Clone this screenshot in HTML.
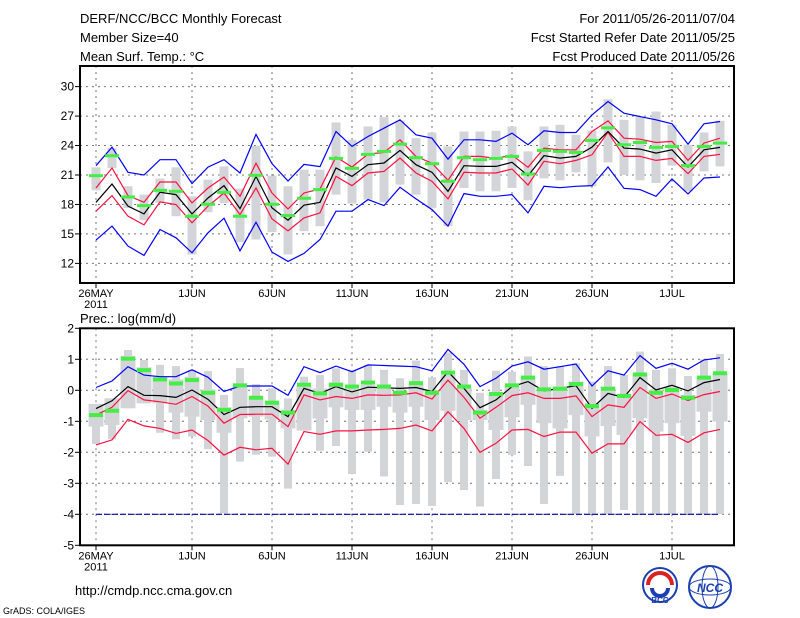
<!DOCTYPE html>
<html><head><meta charset="utf-8"><style>
body{margin:0;background:#fff;}
svg{display:block;font-family:"Liberation Sans",sans-serif;}
</style></head><body>
<svg id="c" width="800" height="618" viewBox="0 0 800 618">
<text x="80" y="23" font-size="13">DERF/NCC/BCC Monthly Forecast</text>
<text x="80" y="42" font-size="13">Member Size=40</text>
<text x="80" y="61" font-size="13">Mean Surf. Temp.: °C</text>
<text x="735" y="23" font-size="13" text-anchor="end">For 2011/05/26-2011/07/04</text>
<text x="735" y="42" font-size="13" text-anchor="end">Fcst Started Refer Date 2011/05/25</text>
<text x="735" y="61" font-size="13" text-anchor="end">Fcst Produced Date 2011/05/26</text>
<text x="80" y="323" font-size="13">Prec.: log(mm/d)</text>
<text x="75" y="595" font-size="13">http://cmdp.ncc.cma.gov.cn</text>
<text x="3" y="614" font-size="9">GrADS: COLA/IGES</text>
<g>
<circle cx="660" cy="585" r="17" fill="#fff" stroke="#1a3fb0" stroke-width="2"/>
<path d="M648 585 a12 12 0 0 1 24 0" fill="none" stroke="#d22" stroke-width="4"/>
<path d="M652 588 a8 8 0 0 0 16 0" fill="none" stroke="#1a3fb0" stroke-width="4"/>
<text x="660" y="603" font-size="8" text-anchor="middle" font-weight="bold" fill="#1a3fb0">BCC</text>
</g>
<g>
<circle cx="710" cy="587" r="21" fill="#fff" stroke="#1a3fb0" stroke-width="2"/>
<ellipse cx="710" cy="587" rx="21" ry="8" fill="none" stroke="#1a3fb0"/>
<ellipse cx="710" cy="587" rx="8" ry="21" fill="none" stroke="#1a3fb0"/>
<text x="710" y="592" font-size="12" text-anchor="middle" font-style="italic" font-weight="bold" fill="#1a3fb0">NCC</text>
</g>
</svg>
<script>
// ---- Temperature panel data ----
const tBlueHi=[21.95,23.84,21.27,21.0,22.56,22.56,20.12,21.8,22.56,21.2,25.13,22.15,20.39,22.08,21.85,25.43,23.91,24.92,25.77,26.62,25.09,24.75,22.62,24.58,24.58,24.42,25.26,24.08,25.5,25.33,25.33,27.12,28.48,27.29,26.95,26.62,26.21,24.15,26.21,26.45];
const tBlueLo=[14.37,15.79,13.76,12.81,15.45,14.6,13.08,15.11,16.6,13.28,16.19,13.15,12.2,13.01,14.43,17.31,17.31,18.49,17.88,19.75,18.56,17.48,15.79,19.1,18.83,18.83,19.0,17.14,19.85,19.71,19.85,19.92,21.81,19.64,19.51,18.83,20.59,19.07,20.69,20.8];
const tRedHi=[19.68,21.71,18.9,18.22,20.29,20.29,18.16,19.68,20.8,18.83,22.2,19.17,17.55,19.17,19.58,22.83,21.81,23.13,23.3,24.58,22.89,22.2,20.46,22.89,22.89,22.69,23.03,21.78,23.74,23.57,23.57,25.43,26.51,24.75,24.65,24.31,24.42,22.49,24.25,24.75];
const tRedLo=[17.31,18.9,16.8,15.92,18.26,17.99,16.13,17.82,19.17,16.97,19.68,16.53,15.31,16.63,17.14,20.86,19.92,21.2,21.37,22.72,21.2,20.36,18.56,21.27,21.2,21.2,21.61,19.98,22.39,22.15,22.49,23.06,25.36,22.89,22.89,22.49,22.69,21.13,22.89,23.1];
const tMean=[18.22,20.08,17.82,17.04,19.24,19.0,17.04,18.66,19.92,17.58,20.86,17.65,16.4,17.92,18.22,21.71,20.86,22.05,22.22,23.5,22.05,21.27,19.34,21.95,21.88,21.88,22.29,20.93,22.96,22.72,22.89,23.84,25.43,23.74,23.64,23.23,23.57,21.81,23.57,23.81];
const tObs=[20.93,22.96,18.76,17.88,19.44,19.34,16.8,18.02,19.24,16.8,20.96,18.02,16.87,18.63,19.51,22.69,21.68,23.1,23.4,24.15,22.76,22.15,20.36,22.76,22.56,22.69,22.89,21.1,23.5,23.4,23.3,24.52,25.8,24.08,24.31,23.81,23.91,21.95,23.91,24.25];
const tBarHi=[21.78,23.74,19.85,19.0,20.63,21.78,18.83,20.52,21.88,19.61,23.98,20.93,19.85,21.54,21.54,26.35,24.58,25.94,26.89,26.55,24.75,25.33,23.91,25.43,25.43,25.5,25.94,23.4,25.94,26.11,25.09,25.53,28.71,26.62,26.95,27.46,26.11,24.08,25.33,26.52];
const tBarLo=[19.44,21.71,17.65,16.4,18.16,16.8,12.91,17.21,18.16,14.16,14.43,15.18,12.91,15.28,15.79,19.0,18.09,18.49,18.22,20.02,19.0,17.65,15.79,19.68,19.34,19.34,19.68,18.43,20.66,20.46,21.27,19.85,22.28,21.0,20.46,20.19,21.95,19.34,21.37,21.88];
const tTicks=[12,15,18,21,24,27,30];
// ---- Precipitation panel data ----
const pBlueHi=[0.09,0.3,0.76,0.49,0.44,0.44,0.66,0.42,-0.04,0.14,0.14,0.14,-0.16,0.76,0.57,0.78,0.6,0.82,0.8,0.78,0.76,0.63,1.32,0.84,0.12,0.39,0.78,0.92,0.68,0.76,0.85,0.14,0.63,0.49,1.12,0.71,0.87,0.68,0.98,1.05];
const pBlueLo=[-4,-4,-4,-4,-4,-4,-4,-4,-4,-4,-4,-4,-4,-4,-4,-4,-4,-4,-4,-4,-4,-4,-4,-4,-4,-4,-4,-4,-4,-4,-4,-4,-4,-4,-4,-4,-4,-4,-4,-4];
const pMean=[-0.59,-0.34,0.12,-0.16,-0.17,-0.23,0.01,-0.29,-0.78,-0.55,-0.53,-0.53,-0.85,0.06,-0.1,0.12,-0.05,0.1,0.08,0.06,0.09,-0.04,0.6,0.06,-0.56,-0.31,0.12,0.28,-0.02,0.06,0.15,-0.58,-0.1,-0.23,0.41,0.01,0.16,-0.02,0.25,0.35];
const pRedHi=[-0.8,-0.55,-0.01,-0.31,-0.37,-0.45,-0.2,-0.51,-1.06,-0.78,-0.77,-0.77,-1.17,-0.15,-0.31,-0.2,-0.26,-0.15,-0.16,-0.15,-0.08,-0.28,0.33,-0.23,-0.9,-0.55,-0.17,-0.08,-0.26,-0.26,-0.18,-0.85,-0.47,-0.55,0.09,-0.26,-0.12,-0.33,-0.14,-0.04];
const pRedLo=[-1.76,-1.6,-0.94,-1.15,-1.23,-1.39,-1.28,-1.62,-2.09,-1.84,-1.92,-1.87,-2.38,-1.33,-1.42,-1.31,-1.31,-1.28,-1.26,-1.23,-1.12,-1.31,-0.69,-1.23,-2.0,-1.71,-1.28,-1.26,-1.49,-1.35,-1.35,-2.03,-1.73,-1.73,-1.01,-1.45,-1.42,-1.68,-1.37,-1.26];
const pObs=[-0.8,-0.66,1.02,0.65,0.35,0.22,0.33,-0.08,-0.63,0.16,-0.24,-0.4,-0.72,0.18,-0.1,0.18,0.12,0.25,0.12,-0.08,0.23,-0.08,0.57,0.12,-0.72,-0.12,0.16,0.41,0.03,0.05,0.2,-0.51,0.05,-0.18,0.51,-0.08,0.01,-0.24,0.41,0.55];
const pBarHi=[-0.44,-0.26,1.3,0.98,0.82,0.78,0.66,0.62,-0.15,0.72,0.2,0.06,-0.26,0.44,0.49,0.71,0.66,0.82,0.66,0.39,0.96,0.42,1.22,0.66,-0.08,0.63,0.6,1.09,0.78,0.78,0.87,0.28,0.78,0.49,1.25,0.66,0.71,0.46,1.0,1.17];
const pBarLo=[-1.73,-1.58,-0.58,-0.42,-1.37,-1.58,-1.49,-1.9,-3.97,-2.3,-2.08,-2.14,-3.17,-1.3,-1.95,-1.8,-2.7,-1.98,-2.78,-3.7,-3.67,-3.73,-2.96,-3.22,-3.75,-2.86,-2.09,-2.44,-3.67,-2.76,-3.99,-3.99,-3.99,-3.86,-3.99,-3.99,-3.99,-3.99,-3.99,-3.99];
const pBoxHi=[-0.44,-0.26,1.11,0.74,0.44,0.35,0.44,0.03,-0.55,0.17,-0.2,-0.37,-0.63,0.17,0.06,0.25,0.01,0.17,0.12,-0.04,0.2,0.01,0.49,0.12,-0.63,-0.15,0.17,0.44,0.06,0.12,0.28,-0.4,0.12,-0.12,0.55,0.01,0.12,-0.15,0.44,0.55];
const pBoxLo=[-1.17,-1.12,-0.58,-0.42,-0.42,-0.72,-0.85,-0.96,-1.37,-0.9,-0.85,-0.94,-1.23,-1.3,-0.91,-0.55,-0.63,-0.63,-0.53,-0.72,-0.53,-0.96,-0.66,-0.96,-0.96,-1.28,-0.87,-0.47,-1.06,-1.23,-0.8,-1.49,-1.15,-1.44,-0.9,-1.33,-1.06,-1.47,-0.69,-1.01];
const pTicks=[-5,-4,-3,-2,-1,0,1,2];
const xTickDays=[0,6,11,16,21,26,31,36];
const xTickLabels=["26MAY","1JUN","6JUN","11JUN","16JUN","21JUN","26JUN","1JUL"];

const svg=document.getElementById('c');
const NS='http://www.w3.org/2000/svg';
function mk(tag,attrs,parent){const e=document.createElementNS(NS,tag);for(const k in attrs)e.setAttribute(k,attrs[k]);(parent||svg).appendChild(e);return e;}
const X0=80,X1=734;
function xs(d){return 96+16*d;}

function panel(name,top,bot,vmin,vmax,ticks){
  const g=mk('g',{});
  
  
  const ys=v=>bot-(v-vmin)/(vmax-vmin)*(bot-top);
  // grid
  ticks.forEach(t=>{const y=ys(t);if(y>top+2&&y<bot-2){const l=mk('line',{x1:X0,x2:X1,y1:y,y2:y,stroke:'#777','stroke-dasharray':'2,4','stroke-width':1},g);}
    const tk=mk('line',{x1:X0-5,x2:X0,y1:y,y2:y,stroke:'#000'},g);
    
    const tx=mk('text',{x:X0-6,y:y+4,'font-size':12,'text-anchor':'end'},g);tx.textContent=t;
    });
  xTickDays.forEach((d,i)=>{const x=xs(d);
    const l=mk('line',{x1:x,x2:x,y1:top,y2:bot,stroke:'#777','stroke-dasharray':'2,4'},g);
    
    const tk=mk('line',{x1:x,x2:x,y1:bot,y2:bot+5,stroke:'#000'},g);
    
    const tx=mk('text',{x:x,y:bot+14,'font-size':11,'text-anchor':'middle'},g);tx.textContent=xTickLabels[i];
    
    if(i===0){const t2=mk('text',{x:x,y:bot+25,'font-size':11,'text-anchor':'middle'},g);t2.textContent='2011';
      }
  });
  return {g,ys};
}
function bars(p,hi,lo,w,name){hi.forEach((h,i)=>{const y1=p.ys(h),y2=p.ys(lo[i]);
  const r=mk('rect',{x:xs(i)-w/2,y:y1,width:w,height:Math.max(1,y2-y1),fill:'#d3d4d8'},p.g);
  });}
function line(p,arr,color,name,dash){const pts=arr.map((v,i)=>xs(i)+','+p.ys(v).toFixed(1)).join(' ');
  const a={points:pts,fill:'none',stroke:color,'stroke-width':1.2};if(dash)a['stroke-dasharray']=dash;
  const l=mk('polyline',a,p.g);}
function obs(p,arr,h,name){arr.forEach((v,i)=>{const r=mk('rect',{x:xs(i)-7,y:p.ys(v)-h/2,width:14,height:h,fill:'#44ee44'},p.g);
  });}
function frame(p,top,bot){const r=mk('rect',{x:X0,y:top,width:X1-X0,height:bot-top,fill:'none',stroke:'#000','stroke-width':2},p.g);
  }

// Temperature panel
const pt=panel('temperature-panel',66,283,10,32.1,tTicks);
bars(pt,tBarHi,tBarLo,9,'temp-range-bar');
line(pt,tBlueHi,'#0000ff','temp-max-line');
line(pt,tBlueLo,'#0000ff','temp-min-line');
line(pt,tRedHi,'#ff1040','temp-upper-line');
line(pt,tRedLo,'#ff1040','temp-lower-line');
line(pt,tMean,'#000','temp-mean-line');
obs(pt,tObs,3,'temp-observed-mark');
frame(pt,66,283);

// Precip panel
const pp=panel('precip-panel',328.3,545.3,-5,2,pTicks);
bars(pp,pBarHi,pBarLo,8,'precip-range-bar');
bars(pp,pBoxHi,pBoxLo,15,'precip-box');
line(pp,pBlueLo,'#0000aa','precip-min-line','6,2');
line(pp,pBlueHi,'#0000ff','precip-max-line');
line(pp,pRedHi,'#ff1040','precip-upper-line');
line(pp,pRedLo,'#ff1040','precip-lower-line');
line(pp,pMean,'#000','precip-mean-line');
obs(pp,pObs,4,'precip-observed-mark');
frame(pp,328.3,545.3);
</script>
</body></html>
